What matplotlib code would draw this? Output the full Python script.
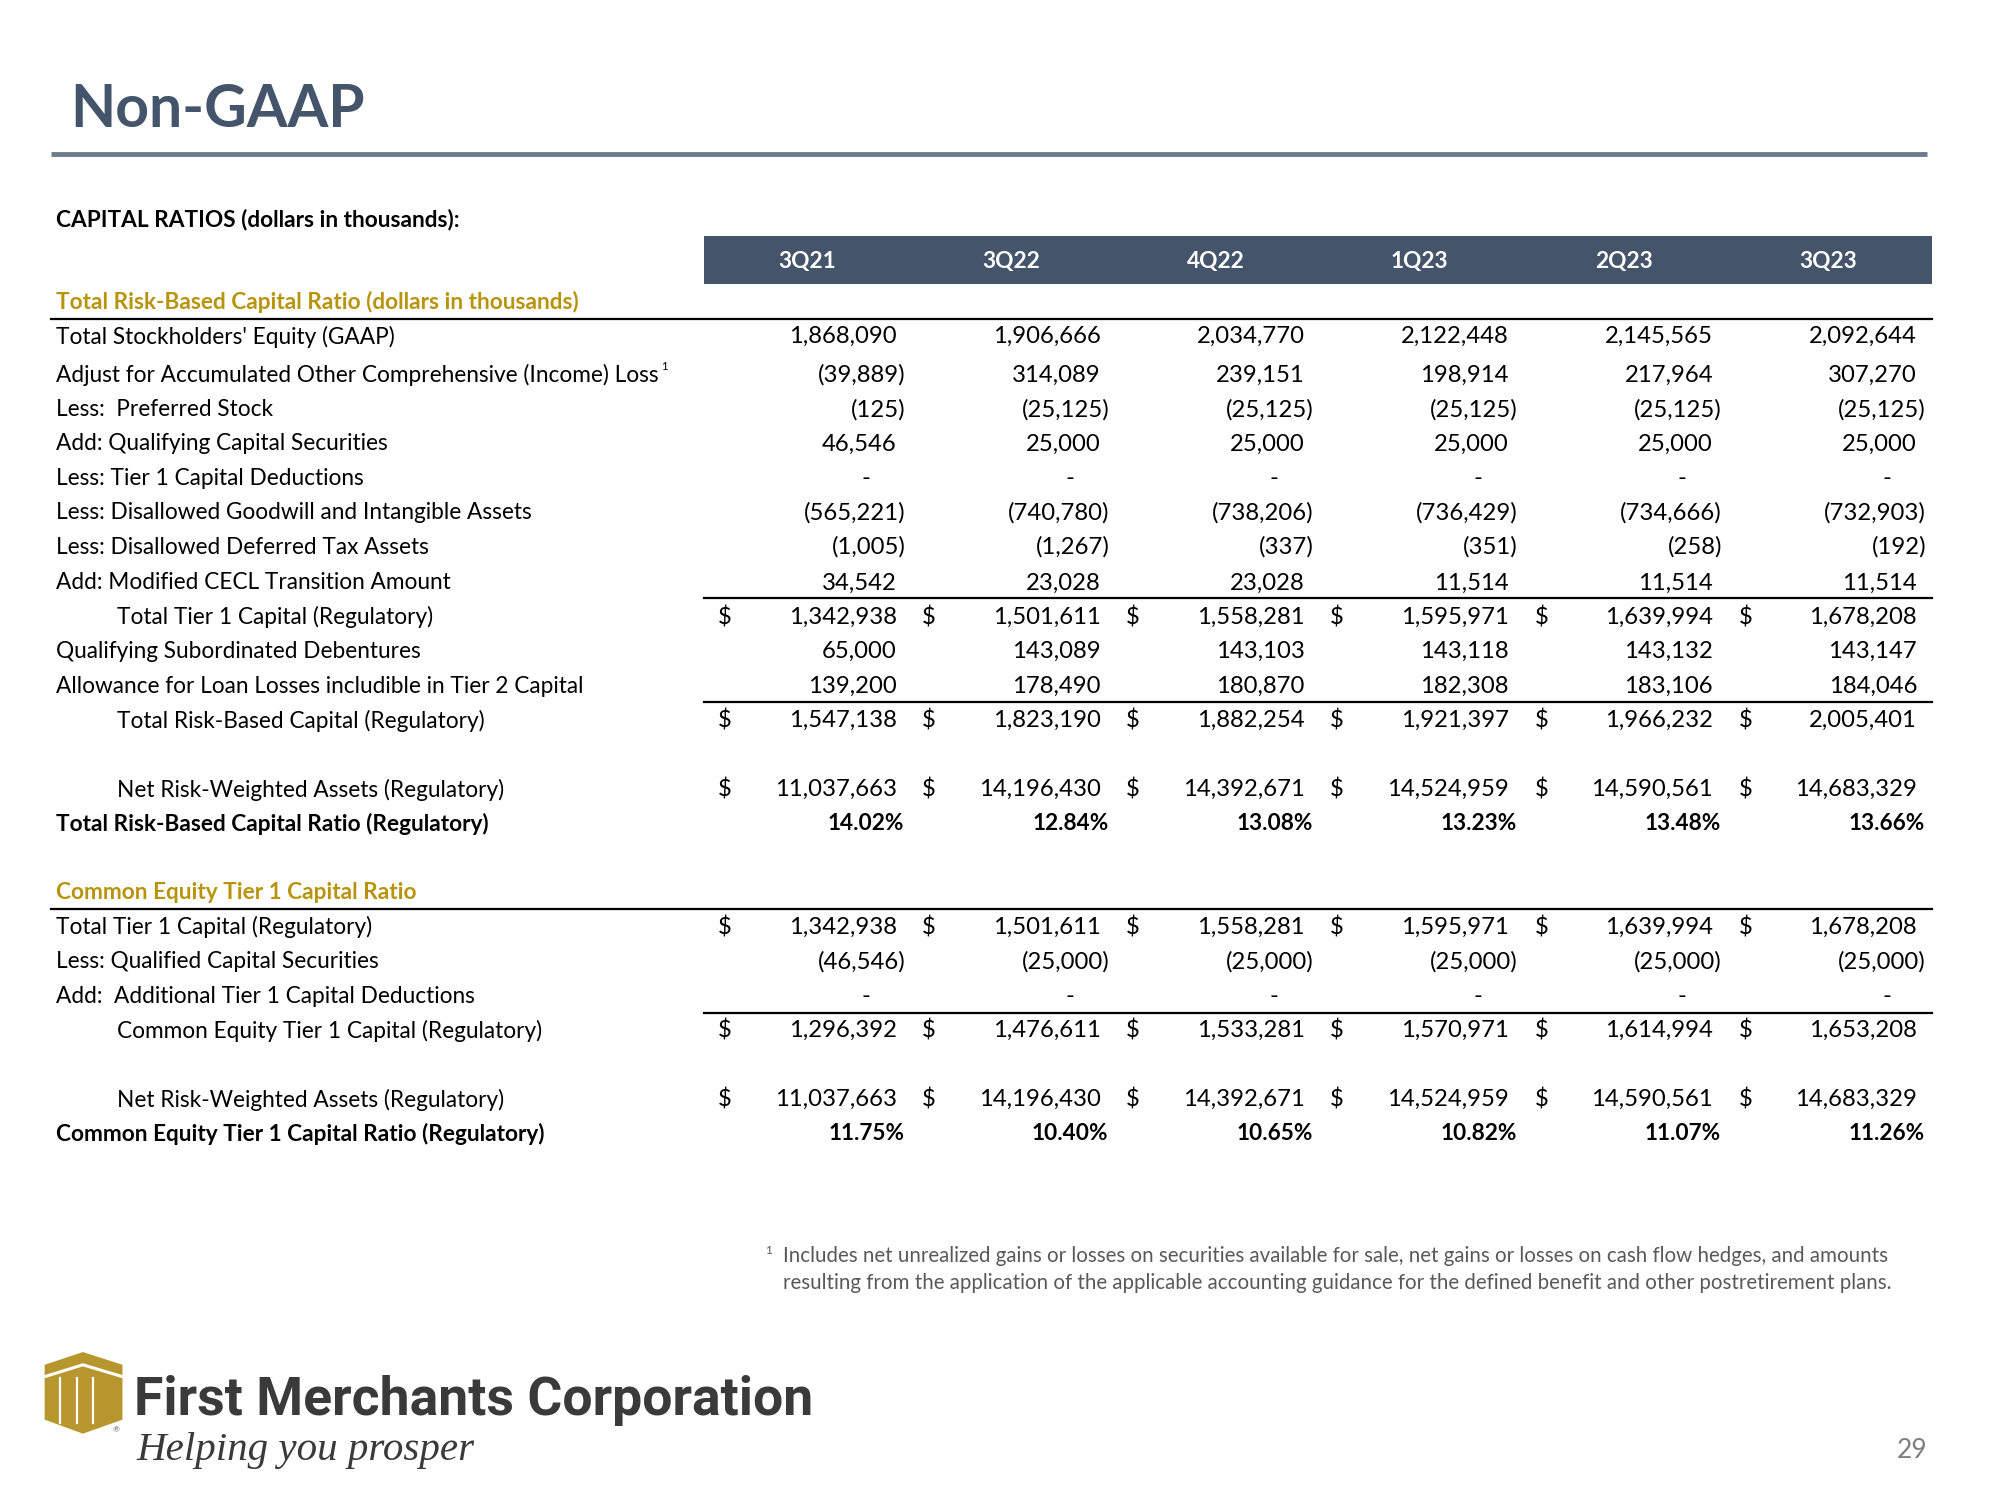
import matplotlib.pyplot as plt
from matplotlib.patches import Rectangle, Polygon

# ---------------- data ----------------
quarters = ['3Q21', '3Q22', '4Q22', '1Q23', '2Q23', '3Q23']

equity_gaap = [1868090, 1906666, 2034770, 2122448, 2145565, 2092644]
aoci_adj = [-39889, 314089, 239151, 198914, 217964, 307270]
preferred = [-125, -25125, -25125, -25125, -25125, -25125]
qual_cap_sec = [46546, 25000, 25000, 25000, 25000, 25000]
tier1_deduct = [0, 0, 0, 0, 0, 0]
goodwill = [-565221, -740780, -738206, -736429, -734666, -732903]
deferred_tax = [-1005, -1267, -337, -351, -258, -192]
cecl = [34542, 23028, 23028, 11514, 11514, 11514]
tier1_capital = [1342938, 1501611, 1558281, 1595971, 1639994, 1678208]
sub_debentures = [65000, 143089, 143103, 143118, 143132, 143147]
loan_allowance = [139200, 178490, 180870, 182308, 183106, 184046]
total_rb_capital = [1547138, 1823190, 1882254, 1921397, 1966232, 2005401]
risk_weighted = [11037663, 14196430, 14392671, 14524959, 14590561, 14683329]
total_rb_ratio = [14.02, 12.84, 13.08, 13.23, 13.48, 13.66]

qualified_sec = [-46546, -25000, -25000, -25000, -25000, -25000]
add_tier1_deduct = [0, 0, 0, 0, 0, 0]
cet1_capital = [1296392, 1476611, 1533281, 1570971, 1614994, 1653208]
cet1_ratio = [11.75, 10.40, 10.65, 10.82, 11.07, 11.26]

# (label, values, y, indent, dollar, kind)
rows_1 = [
    ("Total Stockholders' Equity (GAAP)", equity_gaap, 264, False, False, 'num'),
    ("Adjust for Accumulated Other Comprehensive (Income) Loss", aoci_adj, 294, False, False, 'num'),
    ("Less:  Preferred Stock", preferred, 321, False, False, 'num'),
    ("Add: Qualifying Capital Securities", qual_cap_sec, 348, False, False, 'num'),
    ("Less: Tier 1 Capital Deductions", tier1_deduct, 375, False, False, 'num'),
    ("Less: Disallowed Goodwill and Intangible Assets", goodwill, 402, False, False, 'num'),
    ("Less: Disallowed Deferred Tax Assets", deferred_tax, 429, False, False, 'num'),
    ("Add: Modified CECL Transition Amount", cecl, 457, False, False, 'num'),
    ("Total Tier 1 Capital (Regulatory)", tier1_capital, 484, True, True, 'num'),
    ("Qualifying Subordinated Debentures", sub_debentures, 511, False, False, 'num'),
    ("Allowance for Loan Losses includible in Tier 2 Capital", loan_allowance, 538, False, False, 'num'),
    ("Total Risk-Based Capital (Regulatory)", total_rb_capital, 565, True, True, 'num'),
    ("Net Risk-Weighted Assets (Regulatory)", risk_weighted, 619, True, True, 'num'),
    ("Total Risk-Based Capital Ratio (Regulatory)", total_rb_ratio, 646, False, False, 'pct'),
]
rows_2 = [
    ("Total Tier 1 Capital (Regulatory)", tier1_capital, 727, False, True, 'num'),
    ("Less: Qualified Capital Securities", qualified_sec, 754, False, False, 'num'),
    ("Add:  Additional Tier 1 Capital Deductions", add_tier1_deduct, 781, False, False, 'num'),
    ("Common Equity Tier 1 Capital (Regulatory)", cet1_capital, 808, True, True, 'num'),
    ("Net Risk-Weighted Assets (Regulatory)", risk_weighted, 862, True, True, 'num'),
    ("Common Equity Tier 1 Capital Ratio (Regulatory)", cet1_ratio, 889, False, False, 'pct'),
]

# ---------------- style ----------------
FONT = 'Lato'
SLATE = '#44546A'
GOLD = '#B8930C'
GREY = '#595959'
BODY = 16.3
NUM = 17.2

plt.rcParams['font.family'] = [FONT, 'DejaVu Sans']

fig = plt.figure(figsize=(20, 15), dpi=100)
ax = fig.add_axes([0, 0, 1, 1])
ax.set_xlim(0, 1568)
ax.set_ylim(1176, 0)
ax.axis('off')

# title + rule
ax.text(55, 86, "Non-GAAP", fontsize=42.3, fontweight='bold', color=SLATE, va='center', ha='left')
ax.plot([40, 1511], [121, 121], color='#6D7B8D', lw=3.5, solid_capstyle='butt')

ax.text(44, 172, "CAPITAL RATIOS (dollars in thousands):", fontsize=BODY, fontweight='bold',
        color='black', va='center')

# header bar
ax.add_patch(Rectangle((552, 185), 963, 38, color=SLATE, lw=0))
col_centers = [633 + 160 * i for i in range(6)]
for q, cx in zip(quarters, col_centers):
    ax.text(cx, 205, q, fontsize=BODY, fontweight='bold', color='white', ha='center', va='center')

# section headings
ax.text(44, 237, "Total Risk-Based Capital Ratio (dollars in thousands)", fontsize=BODY,
        fontweight='bold', color=GOLD, va='center')
ax.plot([40, 1515], [250, 250], color='black', lw=1.6)
ax.text(44, 700, "Common Equity Tier 1 Capital Ratio", fontsize=BODY,
        fontweight='bold', color=GOLD, va='center')
ax.plot([40, 1515], [713, 713], color='black', lw=1.6)

# subtotal rules
for y in (469, 550, 794):
    ax.plot([552, 1515], [y, y], color='black', lw=1.6)


def fmt(v):
    if v == 0:
        return '-'
    if v < 0:
        return '({:,})'.format(-v)
    return '{:,}'.format(v)


labels = {}


def draw_rows(rows):
    for label, vals, y, indent, dollar, kind in rows:
        bold = kind == 'pct'
        labels[y] = ax.text(92 if indent else 44, y, label, fontsize=BODY, color='black',
                            va='center', fontweight='bold' if bold else 'normal')
        for i, v in enumerate(vals):
            right = 703 + 160 * i
            if dollar:
                ax.text(563 + 160 * i, y, '$', fontsize=NUM, va='center', ha='left')
            if kind == 'pct':
                ax.text(right + 6, y, '{:.2f}%'.format(v), fontsize=BODY, fontweight='bold',
                        va='center', ha='right')
            elif v == 0:
                ax.text(right - 24, y, '-', fontsize=NUM, va='center', ha='center')
            elif v < 0:
                ax.text(right + 7, y, fmt(v), fontsize=NUM, va='center', ha='right')
            else:
                ax.text(right, y, fmt(v), fontsize=NUM, va='center', ha='right')


draw_rows(rows_1)
draw_rows(rows_2)

# superscript right after "Loss" on the AOCI line
fig.canvas.draw()
bb = labels[294].get_window_extent().transformed(ax.transData.inverted())
ax.text(bb.x1 + 2, 287, "1", fontsize=8, va='center', ha='left')

# footnote
ax.text(600, 980, "1", fontsize=8.5, color=GREY, va='center', ha='left')
ax.text(614, 985, "Includes net unrealized gains or losses on securities available for sale, "
        "net gains or losses on cash flow hedges, and amounts", fontsize=14.8, color=GREY, va='center')
ax.text(614, 1006, "resulting from the application of the applicable accounting guidance for "
        "the defined benefit and other postretirement plans.", fontsize=14.8, color=GREY, va='center')

# logo: gold building
LOGO_GOLD = '#B8962E'
ax.add_patch(Polygon([(65, 1060), (96, 1070), (96, 1113), (65, 1124), (35, 1113), (35, 1070)],
                     closed=True, color=LOGO_GOLD, lw=0))
ax.plot([36, 65, 95], [1079, 1070, 1079], color='white', lw=2.2)
for x in (47, 60, 73):
    ax.plot([x, x], [1080, 1116], color='white', lw=1.6)
ax.text(88, 1121, "\u00ae", fontsize=6, color='#666666', va='center')

ax.text(105, 1098, "First Merchants Corporation", fontsize=38.5, fontweight='bold',
        family=['Roboto', 'DejaVu Sans'], color='#3A3A3A', va='center')
ax.text(107, 1137, "Helping you prosper", fontsize=29.5, style='italic',
        family=['Liberation Serif', 'DejaVu Serif'], color='#3A3A3A', va='center')

ax.text(1511, 1137, "29", fontsize=19, color='#7F7F7F', va='center', ha='right')

fig.savefig('out.png', dpi=100)
